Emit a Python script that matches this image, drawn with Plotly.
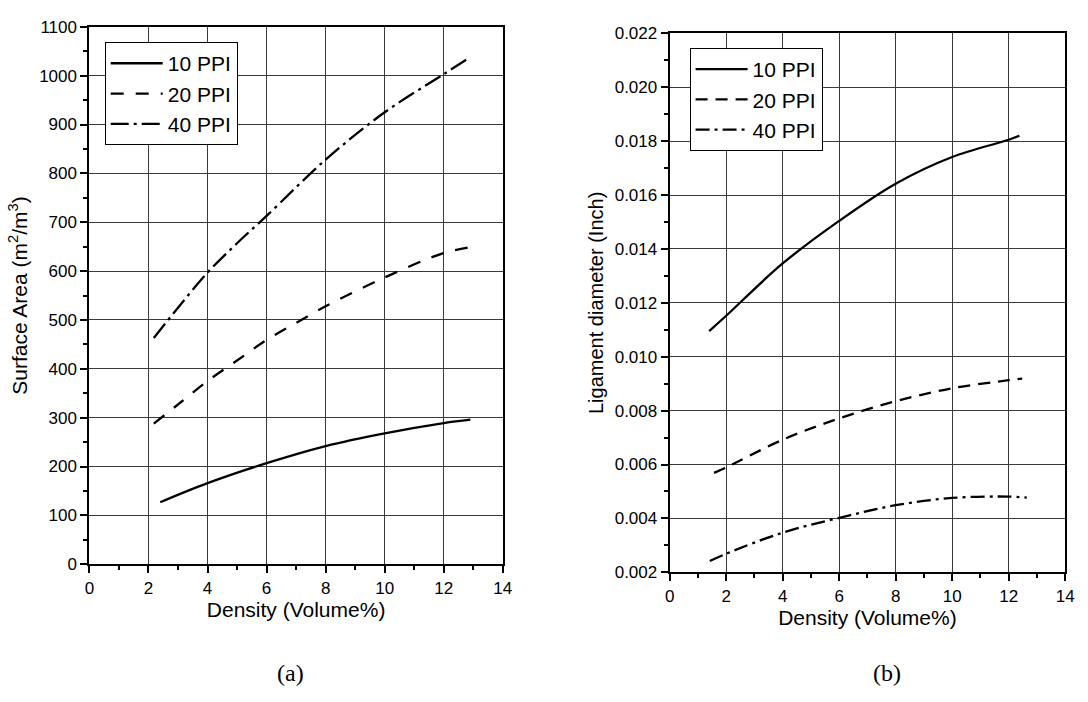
import plotly.graph_objects as go

# ---- data ----
sa_10_x = [2.4, 4, 6, 8, 10, 12, 12.9]
sa_10_y = [127, 166, 207, 242, 268, 289, 296]
sa_20_x = [2.18, 3, 4, 5, 6, 7, 8, 10, 12, 13.0]
sa_20_y = [288, 327, 375, 417, 459, 494, 528, 587, 637, 650]
sa_40_x = [2.18, 3, 4, 5, 6, 8, 10, 12, 12.85]
sa_40_y = [463, 525, 597, 657, 713, 828, 925, 1003, 1036]

ld_10_x = [1.4, 2, 4, 6, 8, 10, 12, 12.38]
ld_10_y = [0.01095, 0.01152, 0.01346, 0.01504, 0.01642, 0.01741, 0.01805, 0.0182]
ld_20_x = [1.57, 2, 4, 6, 8, 10, 12, 12.48]
ld_20_y = [0.00569, 0.00589, 0.00692, 0.00771, 0.00835, 0.00883, 0.00913, 0.00919]
ld_40_x = [1.42, 2, 4, 6, 8, 10, 12, 12.64]
ld_40_y = [0.00242, 0.00269, 0.00347, 0.00402, 0.00449, 0.00476, 0.00481, 0.00477]

names = ["10 PPI", "20 PPI", "40 PPI"]
dash_left = ["solid", "13px,12px", "18px,5px,3px,5px"]
dash_right = ["solid", "12px,8px", "14px,5px,3px,5px"]

fig = go.Figure()
left = [(sa_10_x, sa_10_y), (sa_20_x, sa_20_y), (sa_40_x, sa_40_y)]
right = [(ld_10_x, ld_10_y), (ld_20_x, ld_20_y), (ld_40_x, ld_40_y)]
for (x, y), n, d in zip(left, names, dash_left):
    fig.add_trace(go.Scatter(x=x, y=y, name=n, mode="lines", line_shape="spline",
                             line=dict(color="black", width=2.3, dash=d),
                             xaxis="x", yaxis="y", legend="legend"))
for (x, y), n, d in zip(right, names, dash_right):
    fig.add_trace(go.Scatter(x=x, y=y, name=n, mode="lines", line_shape="spline",
                             line=dict(color="black", width=2.3, dash=d),
                             xaxis="x2", yaxis="y2", legend="legend2"))

W, H = 1088, 702
SANS = "Liberation Sans, Arial, sans-serif"
SERIF = "Liberation Serif, Times New Roman, serif"

def ax(**kw):
    base = dict(showline=True, linecolor="black", linewidth=2, mirror=True,
                ticks="outside", ticklen=7, tickwidth=1.5, tickcolor="black",
                showgrid=True, gridcolor="#3a3a3a", gridwidth=1, zeroline=False,
                tickfont=dict(size=17, family=SANS, color="black"))
    base.update(kw)
    return base

minor_x = dict(ticks="outside", ticklen=4, dtick=1, tickcolor="black", tickwidth=1.5, showgrid=False)

fig.update_layout(
    width=W, height=H, autosize=False,
    margin=dict(l=0, r=0, t=0, b=0),
    paper_bgcolor="white", plot_bgcolor="white",
    font=dict(family=SANS, color="black"),
    showlegend=True,
    xaxis=ax(domain=[85.5 / W, 504.3 / W], anchor="y", range=[0, 14], dtick=2,
             minor=minor_x,
             title=dict(text="Density (Volume%)", font=dict(size=21, family=SANS), standoff=2)),
    yaxis=ax(domain=[1 - 570.7 / H, 1 - 18.3 / H], anchor="x", range=[0, 1100], dtick=100,
             minor=dict(ticks="outside", ticklen=4, dtick=50, tickcolor="black", tickwidth=1.5, showgrid=False),
             title=dict(text="Surface Area (m<sup>2</sup>/m<sup>3</sup>)", font=dict(size=21, family=SANS), standoff=6)),
    xaxis2=ax(domain=[673.3 / W, 1074 / W], anchor="y2", range=[0, 14], dtick=2,
              minor=minor_x,
              title=dict(text="Density (Volume%)", font=dict(size=21, family=SANS), standoff=0)),
    yaxis2=ax(domain=[1 - 579 / H, 1 - 25 / H], anchor="x2", range=[0.002, 0.022], dtick=0.002,
              tickformat=".3f",
              minor=dict(ticks="outside", ticklen=4, dtick=0.001, tickcolor="black", tickwidth=1.5, showgrid=False),
              title=dict(text="Ligament diameter (Inch)", font=dict(size=20, family=SANS), standoff=6)),
    legend=dict(x=101 / W, y=1 - 34 / H, xanchor="left", yanchor="top",
                bordercolor="black", borderwidth=1, bgcolor="white",
                font=dict(size=21, family=SANS, color="black"),
                tracegroupgap=0, itemwidth=52),
    legend2=dict(x=693.5 / W, y=1 - 40 / H, xanchor="left", yanchor="top",
                 bordercolor="black", borderwidth=1, bgcolor="white",
                 font=dict(size=21, family=SANS, color="black"),
                 tracegroupgap=0, itemwidth=52),
    annotations=[
        dict(text="(a)", x=289 / W, y=1 - 682 / H, xref="paper", yref="paper",
             xanchor="center", yanchor="middle",
             showarrow=False, font=dict(size=24, family=SERIF, color="black")),
        dict(text="(b)", x=893 / W, y=1 - 682 / H, xref="paper", yref="paper",
             xanchor="center", yanchor="middle",
             showarrow=False, font=dict(size=24, family=SERIF, color="black")),
    ],
)

fig.write_html("out.html", config={"displayModeBar": False},
               post_script="document.body.style.margin='0';document.body.style.overflow='hidden';")
